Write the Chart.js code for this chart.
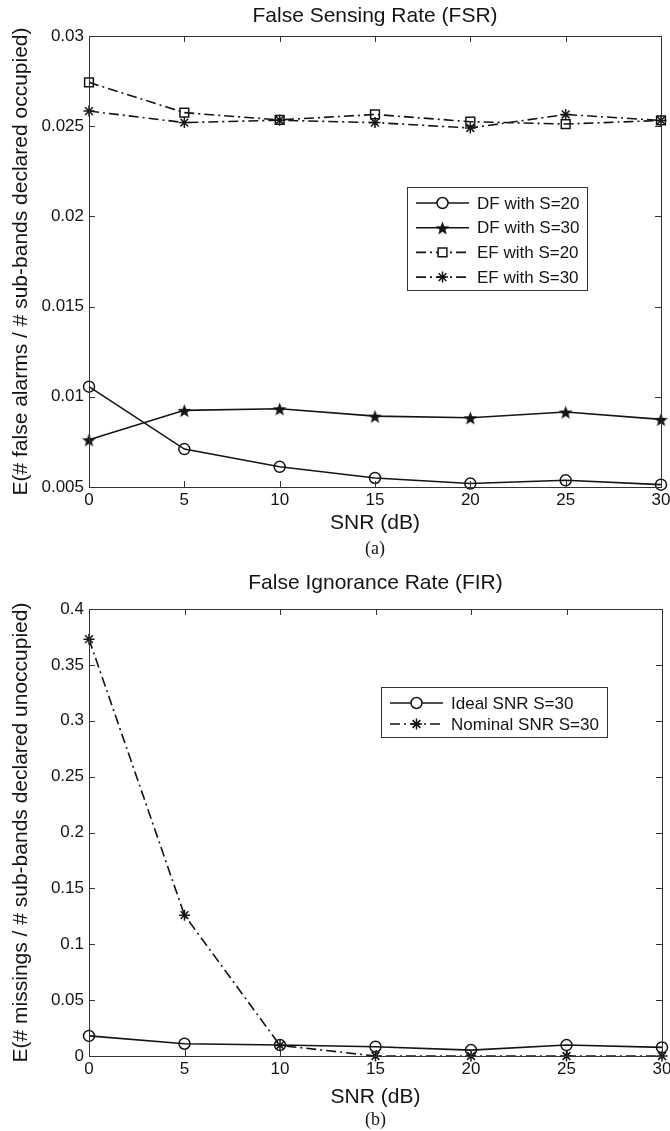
<!DOCTYPE html>
<html><head><meta charset="utf-8">
<script src="https://cdn.jsdelivr.net/npm/chart.js@4.4.0/dist/chart.umd.min.js"></script>
<style>
html,body{margin:0;padding:0;background:#fff;width:670px;height:1131px;overflow:hidden}
.c{position:absolute;left:0;width:670px}
#w1{top:0;height:565px}
#w2{top:565px;height:566px}
</style></head><body>
<div class="c" id="w1"><canvas id="c1"></canvas></div>
<div class="c" id="w2"><canvas id="c2"></canvas></div>
<script>
// ---------- data ----------
const snr = [0, 5, 10, 15, 20, 25, 30];
const xTicks = [0, 5, 10, 15, 20, 25, 30];
// (a) False Sensing Rate
const dfS20 = [0.01056, 0.0071, 0.00612, 0.0055, 0.00519, 0.00537, 0.00513];
const dfS30 = [0.00762, 0.00925, 0.00934, 0.00893, 0.00884, 0.00916, 0.00875];
const efS20 = [0.02743, 0.02575, 0.02535, 0.02565, 0.02525, 0.02512, 0.02532];
const efS30 = [0.02584, 0.0252, 0.02533, 0.0252, 0.0249, 0.02565, 0.02532];
const yTicksA = [0.005, 0.01, 0.015, 0.02, 0.025, 0.03];
const yLabelsA = ['0.005', '0.01', '0.015', '0.02', '0.025', '0.03'];
// (b) False Ignorance Rate
const idealS30 = [0.018, 0.011, 0.0098, 0.0083, 0.0053, 0.0098, 0.0077];
const nominalS30 = [0.373, 0.126, 0.0095, 0, 0, 0, 0];
const yTicksB = [0, 0.05, 0.1, 0.15, 0.2, 0.25, 0.3, 0.35, 0.4];
const yLabelsB = ['0', '0.05', '0.1', '0.15', '0.2', '0.25', '0.3', '0.35', '0.4'];

const SANS = '"Liberation Sans", Arial, Helvetica, sans-serif';
const SERIF = '"Liberation Serif", "Times New Roman", serif';
const INK = '#141414';
const DASHDOT = [10, 4, 2, 4];

// filled pentagram marker
function makeStar(size) {
  const cv = document.createElement('canvas');
  cv.width = size; cv.height = size;
  const g = cv.getContext('2d');
  const c = size / 2, R = size / 2 - 0.3, r = R * 0.42;
  g.beginPath();
  for (let i = 0; i < 10; i++) {
    const rad = i % 2 === 0 ? R : r;
    const a = -Math.PI / 2 + i * Math.PI / 5;
    const px = c + rad * Math.cos(a), py = c + 1 + rad * Math.sin(a);
    if (i === 0) g.moveTo(px, py); else g.lineTo(px, py);
  }
  g.closePath();
  g.fillStyle = INK; g.fill();
  return cv;
}
const starImg = makeStar(15);

function pts(xs, ys) { return xs.map((x, i) => ({ x: x, y: ys[i] })); }

function ds(label, data, style, radius, dash) {
  return {
    label: label, data: data,
    borderColor: INK, borderWidth: 1.6, borderDash: dash || [],
    pointStyle: style, pointRadius: radius, pointHoverRadius: radius,
    pointBorderColor: INK, pointBackgroundColor: 'rgba(0,0,0,0)', pointBorderWidth: 1.5,
    tension: 0, clip: 14, fill: false
  };
}

const decor = {
  id: 'decor',
  afterDraw(chart, args, o) {
    const ctx = chart.ctx, a = chart.chartArea;
    const xs = chart.scales.x, ys = chart.scales.y;
    ctx.save();
    // frame
    ctx.strokeStyle = '#333'; ctx.lineWidth = 1; ctx.setLineDash([]);
    ctx.strokeRect(Math.round(a.left) + 0.5, Math.round(a.top) + 0.5,
      Math.round(a.right - a.left), Math.round(a.bottom - a.top));
    // inner ticks
    const L = 6;
    ctx.beginPath();
    xs.ticks.forEach(t => {
      const px = Math.round(xs.getPixelForValue(t.value)) + 0.5;
      ctx.moveTo(px, a.bottom); ctx.lineTo(px, a.bottom - L);
      ctx.moveTo(px, a.top); ctx.lineTo(px, a.top + L);
    });
    ys.ticks.forEach(t => {
      const py = Math.round(ys.getPixelForValue(t.value)) + 0.5;
      ctx.moveTo(a.left, py); ctx.lineTo(a.left + L, py);
      ctx.moveTo(a.right, py); ctx.lineTo(a.right - L, py);
    });
    ctx.stroke();
    // texts
    const cx = (a.left + a.right) / 2;
    ctx.fillStyle = INK;
    ctx.textAlign = 'center'; ctx.textBaseline = 'middle';
    ctx.font = '21px ' + SANS;
    ctx.fillText(o.title, cx, o.titleY);
    ctx.fillText(o.xLabel, cx, o.xLabelY);
    ctx.font = '18px ' + SERIF;
    ctx.fillText(o.caption, cx, o.captionY);
    ctx.save();
    ctx.translate(o.yLabelX, (a.top + a.bottom) / 2);
    ctx.rotate(-Math.PI / 2);
    ctx.font = '21px ' + SANS;
    ctx.fillText(o.yLabel, 0, 0);
    ctx.restore();
    // legend
    const lg = o.legend;
    ctx.fillStyle = '#fff';
    ctx.fillRect(lg.x, lg.y, lg.w, lg.h);
    ctx.strokeStyle = '#333'; ctx.lineWidth = 1;
    ctx.strokeRect(lg.x + 0.5, lg.y + 0.5, lg.w, lg.h);
    chart.data.datasets.forEach((d, i) => {
      const y = lg.y + lg.first + i * lg.rowH;
      const x0 = lg.x + lg.lineX0, x1 = lg.x + lg.lineX1;
      ctx.strokeStyle = INK; ctx.lineWidth = d.borderWidth;
      ctx.setLineDash(d.borderDash);
      ctx.beginPath(); ctx.moveTo(x0, y); ctx.lineTo(x1, y); ctx.stroke();
      ctx.setLineDash([]);
      ctx.lineWidth = d.pointBorderWidth;
      ctx.fillStyle = 'rgba(0,0,0,0)';
      if (d.pointStyle === 'circle' || d.pointStyle === 'rect') {
        ctx.fillStyle = '#fff';
      }
      Chart.helpers.drawPoint(ctx, { pointStyle: d.pointStyle, radius: d.pointRadius, rotation: 0, borderWidth: d.pointBorderWidth }, (x0 + x1) / 2, y);
      ctx.fillStyle = INK;
      ctx.font = '17px ' + SANS;
      ctx.textAlign = 'left'; ctx.textBaseline = 'middle';
      ctx.fillText(d.label, lg.x + lg.textX, y + 1);
    });
    ctx.restore();
  }
};

function makeChart(id, datasets, yTicks, yLabels, yMin, yMax, padTop, xH, dec) {
  return new Chart(document.getElementById(id), {
    type: 'line',
    data: { datasets: datasets },
    options: {
      responsive: true, maintainAspectRatio: false, animation: false, devicePixelRatio: 1,
      layout: { padding: { top: padTop, left: 0, right: 8, bottom: 0 } },
      plugins: { legend: { display: false }, tooltip: { enabled: false }, title: { display: false }, decor: dec },
      scales: {
        x: {
          type: 'linear', min: 0, max: 30,
          afterBuildTicks: s => { s.ticks = xTicks.map(v => ({ value: v })); },
          afterFit: s => { s.height = xH; s.paddingLeft = 0; s.paddingRight = 0; },
          grid: { display: false, drawTicks: false },
          border: { display: false },
          ticks: { color: INK, padding: 3, font: { size: 17, family: SANS }, maxRotation: 0, autoSkip: false, callback: v => String(v) }
        },
        y: {
          type: 'linear', min: yMin, max: yMax,
          afterBuildTicks: s => { s.ticks = yTicks.map(v => ({ value: v })); },
          afterFit: s => { s.width = 89; s.paddingTop = 0; s.paddingBottom = 0; },
          grid: { display: false, drawTicks: false },
          border: { display: false },
          ticks: { color: INK, padding: 5, font: { size: 17, family: SANS }, autoSkip: false,
            callback: v => { const k = yTicks.findIndex(t => Math.abs(t - v) < 1e-9); return k >= 0 ? yLabels[k] : ''; } }
        }
      }
    },
    plugins: [decor]
  });
}

makeChart('c1', [
  ds('DF with S=20', pts(snr, dfS20), 'circle', 5.5),
  ds('DF with S=30', pts(snr, dfS30), starImg, 7.5),
  ds('EF with S=20', pts(snr, efS20), 'rect', 6.2, DASHDOT),
  ds('EF with S=30', pts(snr, efS30), 'star', 5.5, DASHDOT)
], yTicksA, yLabelsA, 0.005, 0.03, 36, 78, {
  title: 'False Sensing Rate (FSR)', titleY: 16,
  xLabel: 'SNR (dB)', xLabelY: 523,
  caption: '(a)', captionY: 549,
  yLabel: 'E(# false alarms / # sub-bands declared occupied)', yLabelX: 21,
  legend: { x: 407, y: 187, w: 180, h: 103, first: 16, rowH: 24.7, lineX0: 9, lineX1: 62, textX: 70 }
});

makeChart('c2', [
  ds('Ideal SNR S=30', pts(snr, idealS30), 'circle', 5.5),
  ds('Nominal SNR S=30', pts(snr, nominalS30), 'star', 5.5, DASHDOT)
], yTicksB, yLabelsB, 0, 0.4, 44, 75, {
  title: 'False Ignorance Rate (FIR)', titleY: 18,
  xLabel: 'SNR (dB)', xLabelY: 532,
  caption: '(b)', captionY: 555,
  yLabel: 'E(# missings / # sub-bands declared unoccupied)', yLabelX: 21,
  legend: { x: 381, y: 122, w: 226, h: 50, first: 16, rowH: 21, lineX0: 9, lineX1: 62, textX: 70 }
});
</script>
</body></html>
